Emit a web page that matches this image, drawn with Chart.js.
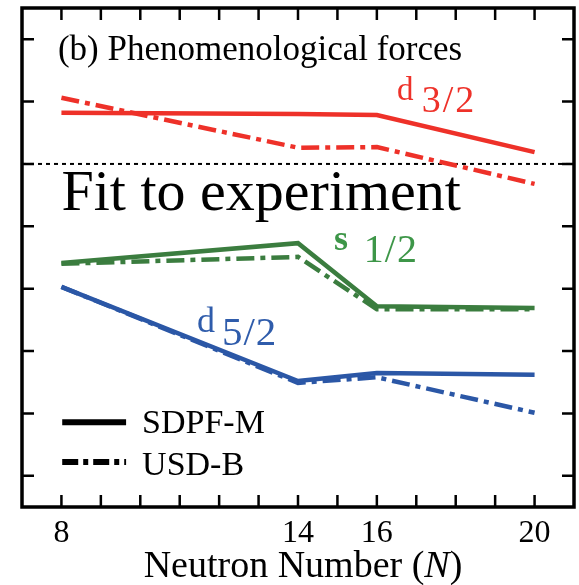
<!DOCTYPE html>
<html>
<head>
<meta charset="utf-8">
<script src="https://cdn.jsdelivr.net/npm/chart.js@4/dist/chart.umd.min.js"></script>
<style>
html,body{margin:0;padding:0;background:#fff;}
#wrap{width:579px;height:585px;position:relative;}
#c{position:absolute;left:0;top:0;}
.probe{position:absolute;left:5px;top:5px;font-family:'Liberation Serif';font-size:20px;color:#fff;}
</style>
</head>
<body>
<div id="wrap"><span class="probe">Fit <b>s</b> <i>N</i> 0123</span><canvas id="c" width="579" height="585"></canvas></div>
<script>
// ---- data ----
const neutronNumbers = [8, 14, 16, 20];
const d32_SDPFM = [0.82, 0.80, 0.785, 0.19];
const d32_USDB  = [1.06, 0.26, 0.27, -0.32];
const s12_SDPFM = [-1.59, -1.27, -2.28, -2.31];
const s12_USDB  = [-1.60, -1.49, -2.33, -2.33];
const d52_SDPFM = [-1.97, -3.48, -3.35, -3.38];
const d52_USDB  = [-1.97, -3.51, -3.42, -3.99];
const xLabelTicks = [8, 14, 16, 20];
const xMinorTicks = [8, 9, 10, 11, 12, 13, 14, 15, 16, 17, 18, 19, 20];
const yTicks = [-5, -4, -3, -2, -1, 0, 1, 2];

const RED = '#ee3129', GREEN = '#3b7d3f', BLUE = '#2b57a6';
const SERIF = "'Liberation Serif'";
const DASHDOT = [18, 6, 5, 6];

function pts(ys) { return neutronNumbers.map((x, i) => ({x: x, y: ys[i]})); }
function ds(label, ys, color, dashed) {
  return {label, data: pts(ys), borderColor: color, backgroundColor: color,
    borderWidth: 4.5, borderDash: dashed ? DASHDOT : [], pointRadius: 0,
    tension: 0, fill: false, borderCapStyle: 'butt', borderJoinStyle: 'miter'};
}

const framePlugin = {
  id: 'frame',
  beforeDatasetsDraw(chart) {
    const ctx = chart.ctx, a = chart.chartArea, ys = chart.scales.y;
    ctx.save();
    ctx.strokeStyle = '#000'; ctx.lineWidth = 2; ctx.setLineDash([4, 4]);
    const y0 = ys.getPixelForValue(0);
    ctx.beginPath(); ctx.moveTo(a.left, y0); ctx.lineTo(a.right, y0); ctx.stroke();
    ctx.restore();
  },
  afterDatasetsDraw(chart) {
    const ctx = chart.ctx, a = chart.chartArea, xs = chart.scales.x, ys = chart.scales.y;
    ctx.save();
    ctx.strokeStyle = '#000'; ctx.lineWidth = 2.5; ctx.setLineDash([]);
    const TL = 12;
    ctx.beginPath();
    xMinorTicks.forEach(v => {
      const px = xs.getPixelForValue(v);
      ctx.moveTo(px, a.bottom); ctx.lineTo(px, a.bottom - TL);
      ctx.moveTo(px, a.top); ctx.lineTo(px, a.top + TL);
    });
    yTicks.forEach(v => {
      const py = ys.getPixelForValue(v);
      ctx.moveTo(a.left, py); ctx.lineTo(a.left + TL, py);
      ctx.moveTo(a.right, py); ctx.lineTo(a.right - TL, py);
    });
    ctx.stroke();
    ctx.lineWidth = 3.5;
    ctx.strokeRect(a.left, a.top, a.right - a.left, a.bottom - a.top);

    const P = (x, y) => [xs.getPixelForValue(x), ys.getPixelForValue(y)];
    ctx.textBaseline = 'alphabetic'; ctx.textAlign = 'left';
    ctx.fillStyle = '#000';
    let [x, y] = P(7.91, 1.67);
    ctx.font = '35px ' + SERIF; ctx.fillText('(b) Phenomenological forces', x, y);
    [x, y] = P(8.0, -0.74);
    ctx.font = '58px ' + SERIF; ctx.fillText('Fit to experiment', x, y);

    function txt(s, xv, yv, color, font, spacing) {
      const [px, py] = P(xv, yv);
      ctx.fillStyle = color; ctx.font = font;
      ctx.letterSpacing = (spacing || 0) + 'px';
      ctx.fillText(s, px, py);
      ctx.letterSpacing = '0px';
    }
    txt('d', 16.51, 1.025, RED, '33px ' + SERIF);
    txt('3/2', 17.14, 0.833, RED, '38px ' + SERIF, 2);
    txt('s', 14.91, -1.38, '#3d9648', 'bold 36px ' + SERIF);
    txt('1/2', 15.67, -1.57, '#3d9648', '40px ' + SERIF, 1);
    txt('d', 11.44, -2.69, '#2f5cab', '36px ' + SERIF);
    txt('5/2', 12.07, -2.90, '#2f5cab', '41px ' + SERIF, 1);

    const lx0 = xs.getPixelForValue(8.02), lx1 = xs.getPixelForValue(9.64);
    const ly1 = ys.getPixelForValue(-4.14), ly2 = ys.getPixelForValue(-4.78);
    ctx.strokeStyle = '#000'; ctx.lineWidth = 6; ctx.lineCap = 'butt';
    ctx.beginPath(); ctx.moveTo(lx0, ly1); ctx.lineTo(lx1, ly1); ctx.stroke();
    ctx.setLineDash([16, 5, 5, 5]);
    ctx.beginPath(); ctx.moveTo(lx0, ly2); ctx.lineTo(lx1, ly2); ctx.stroke();
    ctx.setLineDash([]);
    ctx.fillStyle = '#000'; ctx.font = '34px ' + SERIF;
    ctx.fillText('SDPF-M', lx1 + 16, ly1 + 11);
    ctx.fillText('USD-B', lx1 + 16, ly2 + 13);

    const parts = [['Neutron Number (', ''], ['N', 'italic '], [')', '']];
    let total = 0;
    parts.forEach(p => { ctx.font = p[1] + '38px ' + SERIF; total += ctx.measureText(p[0]).width; });
    let tx = (a.left + a.right) / 2 + 5 - total / 2;
    const ty = a.bottom + 70;
    parts.forEach(p => { ctx.font = p[1] + '38px ' + SERIF; ctx.fillText(p[0], tx, ty); tx += ctx.measureText(p[0]).width; });
    ctx.restore();
  }
};

function build() {
  new Chart(document.getElementById('c'), {
    type: 'line',
    data: {
      datasets: [
        ds('d3/2 SDPF-M', d32_SDPFM, RED, false),
        ds('d3/2 USD-B', d32_USDB, RED, true),
        ds('s1/2 SDPF-M', s12_SDPFM, GREEN, false),
        ds('s1/2 USD-B', s12_USDB, GREEN, true),
        ds('d5/2 SDPF-M', d52_SDPFM, BLUE, false),
        ds('d5/2 USD-B', d52_USDB, BLUE, true)
      ]
    },
    options: {
      responsive: false,
      animation: false,
      events: [],
      layout: {padding: {top: 8, right: 5, left: 0, bottom: 0}},
      plugins: {legend: {display: false}, tooltip: {enabled: false}, title: {display: false}},
      scales: {
        x: {
          type: 'linear', min: 7, max: 21,
          grid: {display: false, drawTicks: false},
          border: {display: false},
          afterBuildTicks(scale) { scale.ticks = xLabelTicks.map(v => ({value: v})); },
          afterFit(scale) { scale.height = 78; },
          ticks: {
            color: '#000', padding: 7, maxRotation: 0, autoSkip: false,
            font: {family: SERIF, size: 32},
            callback: v => String(v)
          }
        },
        y: {
          type: 'linear', min: -5.5, max: 2.5,
          grid: {display: false, drawTicks: false},
          border: {display: false},
          ticks: {display: false},
          afterFit(scale) { scale.width = 22; }
        }
      }
    },
    plugins: [framePlugin]
  });
}
build();
</script>
</body>
</html>
